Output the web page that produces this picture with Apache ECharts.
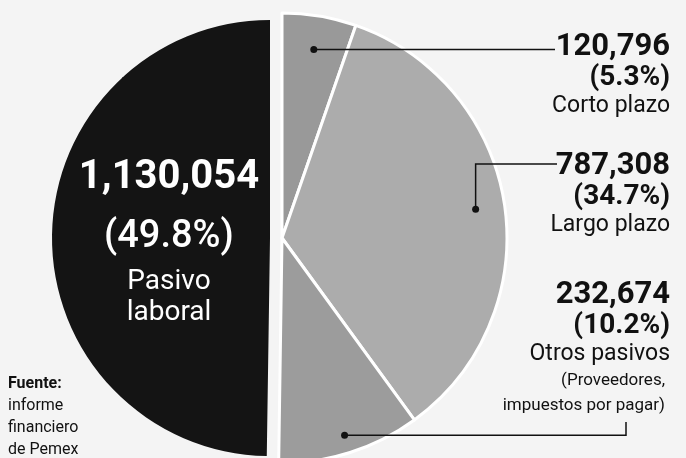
<!DOCTYPE html>
<html>
<head>
<meta charset="utf-8">
<script src="https://cdn.jsdelivr.net/npm/echarts@6/dist/echarts.min.js"></script>
<style>
  html, body { margin: 0; padding: 0; background: #f4f4f4; }
  #pieChart { width: 686px; height: 458px; }
</style>
</head>
<body>
<div id="pieChart"></div>
<script>
// pasivos de Pemex, en el orden en que se dibujan (desde las 12, sentido horario)
var categories = ['Corto plazo', 'Largo plazo', 'Otros pasivos', 'Pasivo laboral'];
var values = [120796, 787308, 232674, 1130054];
var notes = [[], [], ['(Proveedores,', 'impuestos por pagar)'], []];
var sliceColors = ['#999999', '#acacac', '#9c9c9c', '#141414'];
var sourceLines = ['Fuente:', 'informe', 'financiero', 'de Pemex'];

var FONT = 'Roboto';
var CX = 282, CY = 238, R = 225;      // mitad gris
var BX = 270, BR = 218;               // mitad negra (un poco separada)
var total = values.reduce(function (a, b) { return a + b; }, 0);

function fmt(v) { return v.toLocaleString('en-US'); }

// punto dentro de la rebanada i, sobre su bisectriz
function dotAt(i, k) {
    var before = 0;
    for (var j = 0; j < i; j++) before += values[j];
    var a = (before + values[i] / 2) / total * 2 * Math.PI;
    return [CX + R * k * Math.sin(a), CY - R * k * Math.cos(a)];
}
var dotDepth = [0.85, 0.87, 0.92];
var dots = [0, 1, 2].map(function (i) { return dotAt(i, dotDepth[i]); });
var labelTop = [33, 152, 281];

// lineas guia (encima de las rebanadas)
function leader(i) {
    var d = dots[i];
    if (i === 0) return [d, [555, d[1]]];
    if (i === 1) return [d, [d[0], 164], [557, 164]];
    return [d, [626, d[1]], [626, 422]];
}

var hidden = { color: 'transparent', borderWidth: 0 };

var grayData = categories.map(function (name, i) {
    var isBlack = i === 3;
    return {
        name: name,
        value: values[i],
        itemStyle: isBlack ? hidden : { color: sliceColors[i], borderColor: '#ffffff', borderWidth: 3 },
        label: { show: !isBlack }
    };
});

var blackData = categories.map(function (name, i) {
    var isBlack = i === 3;
    return {
        name: name,
        value: values[i],
        itemStyle: isBlack ? { color: sliceColors[i], borderWidth: 0 } : hidden,
        label: { show: isBlack }
    };
});

var guides = [];
dots.forEach(function (d, i) {
    guides.push({
        type: 'polyline',
        shape: { points: leader(i) },
        style: { stroke: '#111', lineWidth: 1.5, fill: null },
        z: 100
    });
    guides.push({
        type: 'circle',
        shape: { cx: d[0], cy: d[1], r: 3.5 },
        style: { fill: '#111' },
        z: 101
    });
});

var chart = echarts.init(document.getElementById('pieChart'));
chart.setOption({
    backgroundColor: '#f4f4f4',
    animation: false,
    series: [
        {
            type: 'pie',
            center: [BX, CY],
            radius: BR,
            startAngle: 90,
            clockwise: true,
            percentPrecision: 1,
            silent: true,
            avoidLabelOverlap: false,
            data: blackData,
            label: {
                position: 'inside',
                align: 'center',
                color: '#ffffff',
                fontFamily: FONT,
                formatter: function (p) {
                    var lines = ['{v|' + fmt(p.value) + '}', '{p|(' + p.percent.toFixed(1) + '%)}'];
                    p.name.split(' ').forEach(function (w) { lines.push('{n|' + w + '}'); });
                    return lines.join('\n');
                },
                rich: {
                    v: { fontFamily: FONT, fontSize: 40, fontWeight: 'bold', color: '#fff', lineHeight: 60, align: 'center' },
                    p: { fontFamily: FONT, fontSize: 38, fontWeight: 500, color: '#fff', lineHeight: 58, align: 'center' },
                    n: { fontFamily: FONT, fontSize: 28, color: '#fff', lineHeight: 31, align: 'center' }
                }
            },
            labelLayout: function () {
                return { x: 169, y: 238, align: 'center', verticalAlign: 'middle' };
            }
        },
        {
            type: 'pie',
            center: [CX, CY],
            radius: R,
            startAngle: 90,
            clockwise: true,
            percentPrecision: 1,
            silent: true,
            avoidLabelOverlap: false,
            data: grayData,
            label: {
                position: 'outside',
                align: 'right',
                color: '#111',
                fontFamily: FONT,
                formatter: function (p) {
                    var lines = ['{v|' + fmt(p.value) + '}', '{p|(' + p.percent.toFixed(1) + '%)}', '{n|' + p.name + '}'];
                    notes[p.dataIndex].forEach(function (t) { lines.push('{s|' + t + '}'); });
                    return lines.join('\n');
                },
                rich: {
                    v: { fontFamily: FONT, fontSize: 31, fontWeight: 'bold', color: '#111', lineHeight: 29, align: 'right' },
                    p: { fontFamily: FONT, fontSize: 28, fontWeight: 'bold', color: '#111', lineHeight: 31, align: 'right' },
                    n: { fontFamily: FONT, fontSize: 23, color: '#111', lineHeight: 27, align: 'right' },
                    s: { fontFamily: FONT, fontSize: 17, color: '#111', lineHeight: 25, align: 'right', padding: [0, 5, 0, 0] }
                }
            },
            labelLine: { show: false },
            labelLayout: function (params) {
                var i = params.dataIndex;
                if (i > 2) return {};
                return { x: 670, y: labelTop[i], align: 'right', verticalAlign: 'top' };
            }
        }
    ],
    graphic: guides.concat([{
        type: 'text',
        left: 8,
        top: 376,
        style: {
            text: sourceLines.map(function (t, k) { return (k === 0 ? '{b|' : '{r|') + t + '}'; }).join('\n'),
            fill: '#111',
            rich: {
                b: { fontFamily: FONT, fontSize: 16, fontWeight: 'bold', lineHeight: 22, fill: '#111' },
                r: { fontFamily: FONT, fontSize: 16, lineHeight: 22, fill: '#111' }
            }
        }
    }])
});
</script>
</body>
</html>
